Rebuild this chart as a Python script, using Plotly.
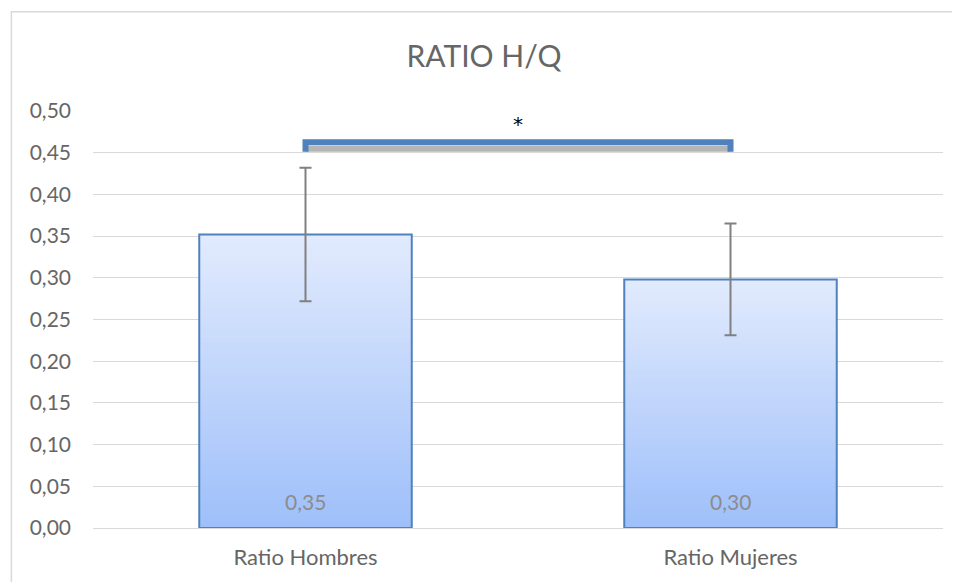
import plotly.graph_objects as go

categories = ["Ratio Hombres", "Ratio Mujeres"]
values = [0.352, 0.298]
errors = [0.080, 0.067]
value_labels = ["0,35", "0,30"]
tick_vals = [0.00, 0.05, 0.10, 0.15, 0.20, 0.25, 0.30, 0.35, 0.40, 0.45, 0.50]
tick_text = ["0,00", "0,05", "0,10", "0,15", "0,20", "0,25", "0,30", "0,35", "0,40", "0,45", "0,50"]
bracket_top = 0.4625
bracket_end = 0.4510
bracket_shadow = 0.4548
star_y = 0.484

FONT = "Lato"
TXT = "#666666"
bottom_rgb = (158, 191, 250)
top_rgb = (226, 235, 253)

fig = go.Figure()

# gradient fill: overlapping bars from the base, lightest (tallest) drawn first
n = 60
for i in range(n - 1, -1, -1):
    t = (i + 0.5) / n
    c = tuple(int(round(bottom_rgb[k] + (top_rgb[k] - bottom_rgb[k]) * t)) for k in range(3))
    fig.add_trace(go.Bar(
        x=categories,
        y=[v * (i + 1) / n for v in values],
        width=0.5,
        marker=dict(color="rgb(%d,%d,%d)" % c, line=dict(width=0)),
        hoverinfo="skip", showlegend=False,
    ))

# outline bar with error bars
fig.add_trace(go.Bar(
    x=categories, y=values, width=0.5,
    marker=dict(color="rgba(0,0,0,0)", line=dict(color="#4F81BD", width=2)),
    error_y=dict(type="data", array=errors, visible=True, color="#808080", thickness=2, width=6),
    showlegend=False,
))

# significance bracket (shadow + line)
fig.add_trace(go.Scatter(
    x=[categories[0], categories[1]], y=[bracket_shadow, bracket_shadow],
    mode="lines", line=dict(color="rgba(150,150,150,0.7)", width=6),
    hoverinfo="skip", showlegend=False, cliponaxis=False,
))
fig.add_trace(go.Scatter(
    x=[categories[0], categories[0], categories[1], categories[1]],
    y=[bracket_end, bracket_top, bracket_top, bracket_end],
    mode="lines", line=dict(color="#4F81BD", width=6),
    hoverinfo="skip", showlegend=False, cliponaxis=False,
))

annotations = [
    dict(x=0.5, y=star_y, xref="x", yref="y", text="*", showarrow=False,
         font=dict(family="DejaVu Sans", size=20, color="#000000")),
]
for cat, lab in zip(categories, value_labels):
    annotations.append(dict(x=cat, y=0, xref="x", yref="y", text=lab, showarrow=False,
                            yanchor="bottom", yshift=12,
                            font=dict(family=FONT, size=21, color="#8C8C8C")))

fig.update_layout(
    width=952, height=574,
    margin=dict(l=85, r=17, t=103, b=51),
    paper_bgcolor="white", plot_bgcolor="white",
    barmode="overlay",
    title=dict(text="RATIO H/Q", x=0.5, xanchor="center", y=0.915, yanchor="middle",
               font=dict(family=FONT, size=30, color=TXT)),
    font=dict(family=FONT, color=TXT),
    annotations=annotations,
    shapes=[dict(type="rect", xref="paper", yref="paper", x0=-0.096, x1=1.03, y0=-0.2, y1=1.238,
                 line=dict(color="#D9D9D9", width=1.5), fillcolor="rgba(0,0,0,0)", layer="below")],
    xaxis=dict(showgrid=False, showline=True, linecolor="#D9D9D9", linewidth=1,
               tickfont=dict(family=FONT, size=22, color=TXT), ticks="", ticklabelstandoff=10),
    yaxis=dict(range=[0, 0.5], tickvals=tick_vals, ticktext=tick_text,
               showgrid=True, gridcolor="#D9D9D9", gridwidth=1, zeroline=False,
               showline=False, ticks="",
               tickfont=dict(family=FONT, size=21, color=TXT), ticklabelstandoff=21),
)

fig.write_html("out.html")
